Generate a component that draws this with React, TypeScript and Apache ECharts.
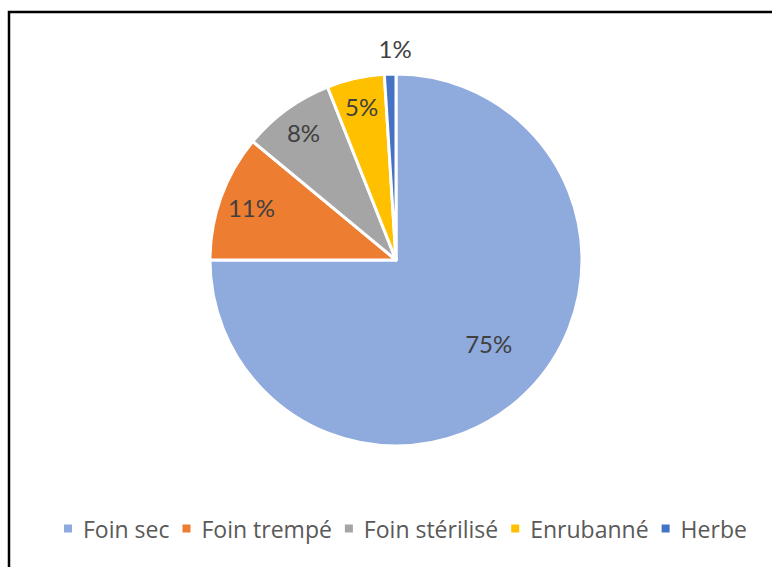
import React, { useEffect, useRef } from "react";
import * as echarts from "echarts";

const categories = ["Foin sec", "Foin trempé", "Foin stérilisé", "Enrubanné", "Herbe"];
const values = [75, 11, 8, 5, 1];
const colors = ["#8FAADC", "#ED7D31", "#A5A5A5", "#FFC000", "#4472C4"];
// label placement: radial fraction of radius, and angular nudge (degrees)
const labelRadius = [0.655, 0.81, 0.83, 0.83, 1.12];
const labelAngleShift = [-3, 0, 0, 0, 1.6];

export default function App() {
  const ref = useRef<HTMLDivElement>(null);
  useEffect(() => {
    document.body.style.margin = "0";
    const chart = echarts.init(ref.current!, null, { renderer: "svg" });
    const R = 186;
    const total = values.reduce((a, b) => a + b, 0);
    let cum = 0;
    const data = values.map((v, i) => {
      const midRaw = ((cum + v / 2) / total) * 2 * Math.PI;
      const mid = midRaw + (labelAngleShift[i] * Math.PI) / 180;
      cum += v;
      const tx = Math.sin(mid) * labelRadius[i] * R;
      const ty = -Math.cos(mid) * labelRadius[i] * R;
      const bx = Math.sin(midRaw) * 0.5 * R;
      const by = -Math.cos(midRaw) * 0.5 * R;
      return {
        name: categories[i],
        value: v,
        itemStyle: { color: colors[i] },
        label: { offset: [tx - bx, ty - by] },
      };
    });
    chart.setOption({
      animation: false,
      backgroundColor: "#ffffff",
      graphic: [
        {
          type: "rect",
          shape: { x: 9, y: 12, width: 900, height: 700 },
          style: { fill: "none", stroke: "#000000", lineWidth: 2.5 },
          z: 100,
        },
      ],
      legend: {
        bottom: 22,
        left: 57,
        itemWidth: 10,
        itemHeight: 10,
        itemGap: 11,
        icon: "rect",
        textStyle: {
          fontFamily: "Open Sans",
          fontSize: 23,
          color: "#595959",
          padding: [0, 0, 0, 5],
        },
        data: categories,
      },
      series: [
        {
          type: "pie",
          center: [396, 260],
          radius: [0, R],
          startAngle: 90,
          clockwise: true,
          data,
          itemStyle: { borderColor: "#ffffff", borderWidth: 3 },
          label: {
            show: true,
            position: "inside",
            formatter: "{d}%",
            fontFamily: "Lato",
            fontSize: 24,
            color: "#404040",
          },
          labelLine: { show: false },
          emphasis: { disabled: true },
        },
      ],
    });
    return () => chart.dispose();
  }, []);
  return <div ref={ref} style={{ width: 772, height: 567 }} />;
}
